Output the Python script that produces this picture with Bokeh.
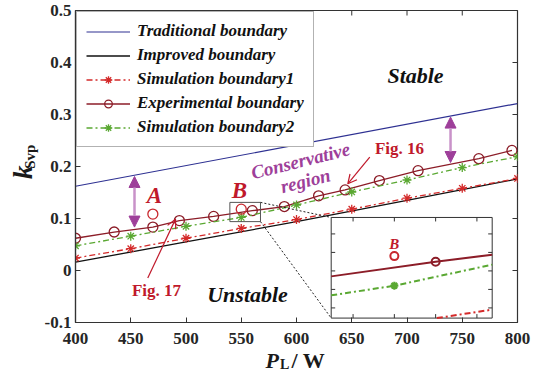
import math
from bokeh.plotting import figure
from bokeh.models import (Range1d, FixedTicker, CustomJSTickFormatter, Legend,
                          LegendItem, Label, Arrow, NormalHead, OpenHead)
from bokeh.core.properties import value
from bokeh.embed import file_html
from bokeh.resources import INLINE

# ---------------- data ----------------
trad_p = [400, 800]
trad_k = [0.162, 0.321]

impr_p = [400, 500, 600, 700, 800]
impr_k = [0.016, 0.055, 0.094, 0.135, 0.176]

sim1_p = [400, 450, 500, 550, 600, 650, 700, 750, 800]
sim1_k = [0.024, 0.042, 0.062, 0.081, 0.098, 0.118, 0.139, 0.158, 0.177]

exp_p = [400, 435, 470, 494, 525, 560, 589, 620, 644, 675, 710, 765, 795]
exp_k = [0.062, 0.074, 0.0835, 0.096, 0.104, 0.115, 0.123, 0.1437, 0.155, 0.173, 0.192, 0.215, 0.231]

sim2_p = [400, 450, 500, 550, 600, 650, 700, 750, 800]
sim2_k = [0.0475, 0.066, 0.085, 0.102, 0.126, 0.151, 0.174, 0.198, 0.219]

test_names = ["A", "B"]
test_p = [470, 550]
test_k = [0.1085, 0.118]

legend_labels = ["Traditional boundary", "Improved boundary", "Simulation boundary1",
                 "Experimental boundary", "Simulation boundary2"]

xtick_vals = [400, 450, 500, 550, 600, 650, 700, 750, 800]
xtick_labels = ["400", "450", "500", "550", "600", "650", "700", "750", "800"]
ytick_vals = [-0.1, 0.0, 0.1, 0.2, 0.3, 0.4, 0.5]
ytick_labels = ["-0.1", "0", "0.1", "0.2", "0.3", "0.4", "0.5"]

inset_xticks = [540, 550, 560, 570]
inset_yticks = [0.09, 0.10, 0.11, 0.12, 0.13]

# ---------------- styles / layout ----------------
FONT = "Liberation Serif"
C_TRAD = "#2e3192"
C_IMPR = "#111111"
C_SIM1 = "#d42a2a"
C_EXP = "#8c1d28"
C_SIM2 = "#5aa832"
C_TEST = "#c8282e"
C_TXT_RED = "#c0192b"
C_PURPLE = "#9e3f9a"
C_AX = "#333333"
C_TITLE = "#1a1a1a"

X0, X1, Y0, Y1 = 400, 800, -0.1, 0.5
FW, FH = 442, 312
BL, BR, BT, BB = 75, 29, 10, 56

# inset location (in main data coords) and the window it shows
IX = (631.4, 777.1)
IY = (-0.0915, 0.102)
WX = (534.7, 573.7)
WY = (0.0845, 0.1389)
ZOOM_BOX = (539.7, 567.4, 0.094, 0.131)

p = figure(width=FW + BL + BR, height=FH + BT + BB, x_range=Range1d(X0, X1), y_range=Range1d(Y0, Y1),
           output_backend="svg", toolbar_location=None,
           min_border_left=BL, min_border_right=BR, min_border_top=BT, min_border_bottom=BB)
p.background_fill_color = "white"
p.border_fill_color = "white"
p.outline_line_color = C_AX
p.outline_line_width = 1.2
p.xgrid.visible = False
p.ygrid.visible = False

def style_axis(ax):
    ax.major_tick_in = 5
    ax.major_tick_out = 0
    ax.minor_tick_in = 0
    ax.minor_tick_out = 0
    ax.axis_line_color = C_AX
    ax.axis_line_width = 1.2
    ax.major_tick_line_color = C_AX
    ax.major_tick_line_width = 1
    ax.major_label_text_font = FONT
    ax.major_label_text_font_style = "bold"
    ax.major_label_text_font_size = "17px"
    ax.major_label_text_color = "#262626"

PICK = """
let best = 0; for (let i = 0; i < vals.length; i++) { if (Math.abs(vals[i]-tick) < Math.abs(vals[best]-tick)) best = i; }
return labs[best];"""

xa = p.xaxis[0]
xa.ticker = FixedTicker(ticks=xtick_vals)
xa.formatter = CustomJSTickFormatter(args=dict(vals=xtick_vals, labs=xtick_labels), code=PICK)
style_axis(xa)
xa.major_label_standoff = 10

ya = p.yaxis[0]
ya.ticker = FixedTicker(ticks=ytick_vals)
ya.formatter = CustomJSTickFormatter(args=dict(vals=ytick_vals, labs=ytick_labels), code=PICK)
style_axis(ya)
ya.major_label_standoff = 4

# top and right inward ticks (box axes)
tlx = 5 * (X1 - X0) / FW
tly = 5 * (Y1 - Y0) / FH
p.segment(x0=xtick_vals, y0=[Y1] * len(xtick_vals), x1=xtick_vals, y1=[Y1 - tly] * len(xtick_vals),
          line_color=C_AX, line_width=1)
p.segment(x0=[X1] * len(ytick_vals), y0=ytick_vals, x1=[X1 - tlx] * len(ytick_vals), y1=ytick_vals,
          line_color=C_AX, line_width=1)

# ---------------- main series ----------------
DASHDOT = "6 3 2 3"
r_trad = p.line(trad_p, trad_k, line_color=C_TRAD, line_width=1.2)
r_impr = p.line(impr_p, impr_k, line_color=C_IMPR, line_width=1.3)
r_sim1 = p.line(sim1_p, sim1_k, line_color=C_SIM1, line_width=1.3, line_dash=DASHDOT)
m_sim1 = p.scatter(sim1_p, sim1_k, marker="asterisk", size=9, line_color=C_SIM1, line_width=1.3)
r_exp = p.line(exp_p, exp_k, line_color=C_EXP, line_width=1.3)
m_exp = p.scatter(exp_p, exp_k, marker="circle", size=10, fill_color=None, line_color=C_EXP, line_width=1.3)
r_sim2 = p.line(sim2_p, sim2_k, line_color=C_SIM2, line_width=1.3, line_dash=DASHDOT)
m_sim2 = p.scatter(sim2_p, sim2_k, marker="asterisk", size=9, line_color=C_SIM2, line_width=1.3)
p.scatter(test_p, test_k, marker="circle", size=10, fill_color=None, line_color=C_TEST, line_width=1.3)

# zoom box and leader lines
zx0, zx1, zy0, zy1 = ZOOM_BOX
p.quad(left=[zx0], right=[zx1], bottom=[zy0], top=[zy1], fill_color=None, line_color="#555555", line_width=1)
p.segment(x0=[zx1, zx1], y0=[zy1, zy0], x1=[IX[0], IX[0]], y1=[IY[1], IY[0]],
          line_color="#222222", line_width=1, line_dash="2 2")

# ---------------- inset (extra ranges mapping the inset window onto the frame) ----------------
kx = (WX[1] - WX[0]) / (IX[1] - IX[0])
ky = (WY[1] - WY[0]) / (IY[1] - IY[0])
p.extra_x_ranges = {"ix": Range1d(WX[0] - (IX[0] - X0) * kx, WX[0] + (X1 - IX[0]) * kx)}
p.extra_y_ranges = {"iy": Range1d(WY[0] - (IY[0] - Y0) * ky, WY[0] + (Y1 - IY[0]) * ky)}
IN = dict(x_range_name="ix", y_range_name="iy")

p.quad(left=[WX[0]], right=[WX[1]], bottom=[WY[0]], top=[WY[1]], fill_color="white",
       line_color=C_AX, line_width=1, **IN)

def clip_seg(xa_, ya_, xb, yb):
    dx, dy = xb - xa_, yb - ya_
    t0, t1 = 0.0, 1.0
    for pp, q in ((-dx, xa_ - WX[0]), (dx, WX[1] - xa_), (-dy, ya_ - WY[0]), (dy, WY[1] - ya_)):
        if pp == 0:
            if q < 0:
                return None
        else:
            t = q / pp
            if pp < 0:
                t0 = max(t0, t)
            else:
                t1 = min(t1, t)
    if t0 > t1:
        return None
    return (xa_ + t0 * dx, ya_ + t0 * dy, xa_ + t1 * dx, ya_ + t1 * dy)

def clip_polyline(xs, ys):
    ox, oy = [], []
    for i in range(len(xs) - 1):
        c = clip_seg(xs[i], ys[i], xs[i + 1], ys[i + 1])
        if c is None:
            continue
        if ox and not (abs(ox[-1] - c[0]) < 1e-9 and abs(oy[-1] - c[1]) < 1e-12):
            ox.append(float("nan")); oy.append(float("nan"))
        if not ox or math.isnan(ox[-1]):
            ox.append(c[0]); oy.append(c[1])
        ox.append(c[2]); oy.append(c[3])
    return ox, oy

def inside(xs, ys):
    px, py = [], []
    for x, y in zip(xs, ys):
        if WX[0] <= x <= WX[1] and WY[0] <= y <= WY[1]:
            px.append(x); py.append(y)
    return px, py

for xs, ys, col, dash in ((impr_p, impr_k, C_IMPR, "solid"), (sim1_p, sim1_k, C_SIM1, DASHDOT),
                          (exp_p, exp_k, C_EXP, "solid"), (sim2_p, sim2_k, C_SIM2, DASHDOT)):
    cx, cy = clip_polyline(xs, ys)
    if cx:
        p.line(cx, cy, line_color=col, line_width=2, line_dash=dash, **IN)

ex, ey = inside(exp_p, exp_k)
p.scatter(ex, ey, marker="circle", size=8, fill_color=None, line_color=C_EXP, line_width=2, **IN)
sx, sy = inside(sim2_p, sim2_k)
p.scatter(sx, sy, marker="asterisk", size=8, line_color=C_SIM2, line_width=2.2, **IN)
s1x, s1y = inside(sim1_p, sim1_k)
p.scatter(s1x, s1y, marker="asterisk", size=8, line_color=C_SIM1, line_width=2.2, **IN)
tx, ty = inside(test_p, test_k)
p.scatter(tx, ty, marker="circle", size=8, fill_color=None, line_color=C_TEST, line_width=2, **IN)
for n, x, y in zip(test_names, test_p, test_k):
    if WX[0] <= x <= WX[1] and WY[0] <= y <= WY[1]:
        p.add_layout(Label(x=x, y=y, y_offset=12, text=n, text_font=FONT, text_font_size="15px",
                           text_font_style="bold italic", text_color=C_TXT_RED,
                           text_align="center", text_baseline="middle", **IN))

# inset ticks (inward, 4 px)
upx = (WX[1] - WX[0]) / ((IX[1] - IX[0]) / (X1 - X0) * FW)
upy = (WY[1] - WY[0]) / ((IY[1] - IY[0]) / (Y1 - Y0) * FH)
TL = 4
sx0, sy0, sx1, sy1 = [], [], [], []
for t in inset_xticks:
    sx0 += [t, t]; sx1 += [t, t]
    sy0 += [WY[0], WY[1]]; sy1 += [WY[0] + TL * upy, WY[1] - TL * upy]
for t in inset_yticks:
    sy0 += [t, t]; sy1 += [t, t]
    sx0 += [WX[0], WX[1]]; sx1 += [WX[0] + TL * upx, WX[1] - TL * upx]
p.segment(x0=sx0, y0=sy0, x1=sx1, y1=sy1, line_color=C_AX, line_width=1, **IN)

# ---------------- legend ----------------
legend = Legend(items=[
    LegendItem(label=legend_labels[0], renderers=[r_trad]),
    LegendItem(label=legend_labels[1], renderers=[r_impr]),
    LegendItem(label=legend_labels[2], renderers=[r_sim1, m_sim1]),
    LegendItem(label=legend_labels[3], renderers=[r_exp, m_exp]),
    LegendItem(label=legend_labels[4], renderers=[r_sim2, m_sim2]),
], location="top_left")
legend.margin = 1
legend.padding = 9
legend.spacing = 4
legend.glyph_width = 44
legend.glyph_height = 19
legend.label_height = 19
legend.label_standoff = 7
legend.label_text_font = FONT
legend.label_text_font_style = "bold italic"
legend.label_text_font_size = "17px"
legend.label_text_color = "#111111"
legend.border_line_color = "#666666"
legend.border_line_width = 1
legend.background_fill_color = "white"
legend.background_fill_alpha = 1
p.add_layout(legend)

# ---------------- annotations ----------------
def lab(x, y, text, size, color="#111111", style="bold italic", angle=0.0,
        align="center", baseline="middle"):
    p.add_layout(Label(x=x, y=y, text=text, text_font=FONT, text_font_size=size,
                       text_font_style=style, text_color=color, angle=angle,
                       text_align=align, text_baseline=baseline))

lab(707.7, 0.375, "Stable", "22px")
lab(555.7, -0.047, "Unstable", "22px")
lab(471.5, 0.1442, test_names[0], "23px", color=C_TXT_RED)
lab(548.4, 0.1537, test_names[1], "23px", color=C_TXT_RED)
lab(693.2, 0.2354, "Fig. 16", "17px", color=C_TXT_RED, style="bold")
lab(473.3, -0.0377, "Fig. 17", "17px", color=C_TXT_RED, style="bold")
rot = math.radians(14)
lab(603.6, 0.211, "Conservative", "19px", color=C_PURPLE, angle=rot)
lab(608.1, 0.1725, "region", "19px", color=C_PURPLE, angle=rot)

# axis titles (text glyphs drawn on the unclipped overlay level, outside the frame)
def title_text(x, y, text, size, style, angle=0.0, align="left"):
    p.text(x=[x], y=[y], text=[text], text_font=value(FONT), text_font_size=size,
           text_font_style=style, text_color=C_TITLE, angle=angle,
           text_align=align, text_baseline="middle", level="overlay")

title_text(352.9, 0.1888, "k", "27px", "bold italic", angle=math.pi / 2, align="center")
title_text(358.4, 0.2187, "Svp", "15px", "bold", angle=math.pi / 2, align="center")
title_text(571.9, -0.1733, "P", "22px", "bold italic")
title_text(585.0, -0.1817, "L", "14px", "bold")
title_text(595.5, -0.1733, "/ W", "22px", "bold")

# arrows
p.add_layout(Arrow(x_start=666.3, y_start=0.218, x_end=646.4, y_end=0.1667,
                   line_color=C_TXT_RED, line_width=1.2,
                   end=OpenHead(size=9, line_color=C_TXT_RED, line_width=1.2)))
p.add_layout(Arrow(x_start=465.4, y_start=-0.0146, x_end=490.5, y_end=0.0988,
                   line_color=C_TXT_RED, line_width=1.2,
                   end=OpenHead(size=9, line_color=C_TXT_RED, line_width=1.2)))
for xx, ya_, yb in ((453.4, 0.0835, 0.1808), (739.4, 0.2077, 0.295)):
    p.add_layout(Arrow(x_start=xx, y_start=ya_, x_end=xx, y_end=yb,
                       line_color="#c992c9", line_width=2.5,
                       start=NormalHead(size=11, fill_color=C_PURPLE, line_color=C_PURPLE),
                       end=NormalHead(size=11, fill_color=C_PURPLE, line_color=C_PURPLE)))

open("out.html", "w").write(file_html(p, INLINE))
